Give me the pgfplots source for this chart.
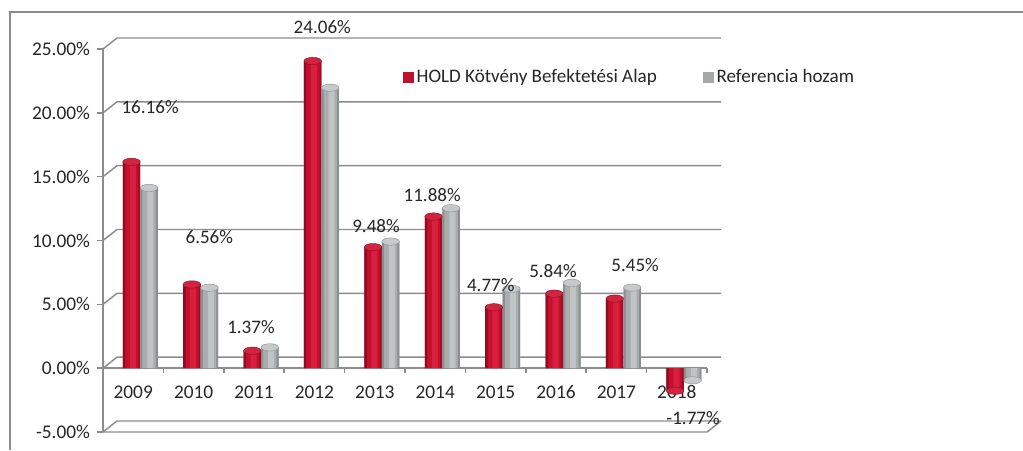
\documentclass[border=0pt]{standalone}
\usepackage{fontspec}
\setmainfont{Carlito}
\usepackage{pgfplots}
\usepackage{pgfplotstable}
\pgfplotsset{compat=1.18}
\pgfplotsset{
  table/redx/.style={x expr=\coordindex-0.028, y=hold},
  table/grayx/.style={x expr=\coordindex+0.262, y=ref},
  layer/.style={ybar, draw=none, forget plot},
}
\definecolor{gridc}{HTML}{8C8C8C}
\definecolor{redA}{HTML}{8E0B22}
\definecolor{redB}{HTML}{C5102D}
\definecolor{redL}{HTML}{D6203D}
\definecolor{redTop}{HTML}{D02440}
\definecolor{grayA}{HTML}{8A8E8E}
\definecolor{grayB}{HTML}{A9ADAD}
\definecolor{grayL}{HTML}{C0C4C4}
\definecolor{grayTop}{HTML}{C6C9C9}
\definecolor{legred}{HTML}{C0102E}
\definecolor{leggray}{HTML}{A5A8A8}
\definecolor{txt}{HTML}{262626}

\pgfplotstableread{
year hold ref
2009 16.16 14.12
2010 6.56 6.30
2011 1.37 1.63
2012 24.06 21.97
2013 9.48 9.92
2014 11.88 12.53
2015 4.77 6.21
2016 5.84 6.68
2017 5.45 6.31
2018 -1.77 -0.95
}\datatable

\pgfplotstableread{
x y label
0.28 20.44 16.16
3.13 26.70 24.06
1.26 10.26 6.56
1.95 3.21 1.37
4.02 11.12 9.48
4.95 13.55 11.88
5.92 6.50 4.77
6.95 7.60 5.84
8.31 8.07 5.45
9.27 -3.92 -1.77
}\labtable

\begin{document}
\begin{tikzpicture}[x=1pt,y=1pt]
\useasboundingbox (0,0) rectangle (767.25,337.5);
\draw[gridc, line width=1.2pt] (7.5,0) -- (7.5,328.5) -- (767.25,328.5);
\begin{axis}[
  at={(77.25pt,13.5pt)}, anchor=south west,
  scale only axis, width=453pt, height=287.25pt,
  xmin=-0.5, xmax=9.5, ymin=-5, ymax=25,
  clip=false,
  axis line style={draw=none},
  major tick length=0pt,
  xtick={0,...,9},
  xticklabels={2009,2010,2011,2012,2013,2014,2015,2016,2017,2018},
  ytick={-5,0,5,10,15,20,25},
  /pgf/number format/assume math mode=true,
  yticklabel={\pgfmathprintnumber[fixed,fixed zerofill,precision=2]{\tick}\%},
  tick label style={font=\fontsize{14.5}{17}\selectfont, text=txt},
  yticklabel style={anchor=east, xshift=-6.2pt},
  xticklabel style={anchor=center, yshift=30pt},
  legend style={at={(axis description cs:0.497,0.927)}, anchor=west, draw=none, fill=none,
    legend columns=2, inner sep=0pt, font=\fontsize{14.3}{17}\selectfont, text=txt,
    /tikz/every even column/.append style={column sep=33pt}},
]
% back wall grid lines with 3D offset
\pgfplotsinvokeforeach{-5,0,5,10,15,20,25}{
  \draw[gridc, line width=1.1pt] (axis cs:-0.5,#1) -- ++(10.5pt,8.25pt) -- ([shift={(10.5pt,8.25pt)}]axis cs:9.5,#1);
  \draw[gridc, line width=1.1pt] (axis cs:-0.5,#1) -- ++(-4.5pt,0pt);
}
% left axis line
\draw[gridc, line width=1.1pt] (axis cs:-0.5,-5) -- (axis cs:-0.5,25);
% floor front lines
\draw[gridc, line width=1.1pt] (axis cs:-0.5,0) -- (axis cs:9.5,0);
\draw[gridc, line width=1.1pt] (axis cs:-0.5,-5) -- (axis cs:9.5,-5) -- ++(10.5pt,8.25pt);
\pgfplotsinvokeforeach{-0.5,0.5,...,9.5}{
  \draw[gridc, line width=1.1pt] (axis cs:#1,0) -- ++(0pt,-3.75pt);
}
% red cylinders (layered)
\addplot[layer, bar width=13.1pt, bar shift=0pt, fill=redB] table[redx]{\datatable};
\addplot[layer, bar width=4.5pt, bar shift=1pt, fill=redL] table[redx]{\datatable};
\addplot[layer, bar width=1.8pt, bar shift=-5.65pt, fill=redA] table[redx]{\datatable};
\addplot[layer, bar width=1.4pt, bar shift=5.85pt, fill=redA!75!redB] table[redx]{\datatable};
\addplot[only marks, mark=*, mark size=6.55pt, forget plot,
  mark options={fill=redTop, draw=redA, line width=0.3pt, yscale=0.42}]
  table[redx]{\datatable};
% gray cylinders (layered)
\addplot[layer, bar width=13.1pt, bar shift=0pt, fill=grayB] table[grayx]{\datatable};
\addplot[layer, bar width=4.5pt, bar shift=1pt, fill=grayL] table[grayx]{\datatable};
\addplot[layer, bar width=1.6pt, bar shift=-5.75pt, fill=grayA] table[grayx]{\datatable};
\addplot[layer, bar width=1.4pt, bar shift=5.85pt, fill=grayA] table[grayx]{\datatable};
\addplot[only marks, mark=*, mark size=6.55pt, forget plot,
  mark options={fill=grayTop, draw=grayA, line width=0.3pt, yscale=0.42}]
  table[grayx]{\datatable};
% data labels
\addplot[draw=none, forget plot, point meta=explicit symbolic,
  nodes near coords={\pgfplotspointmeta\%}, nodes near coords align={center},
  every node near coord/.append style={font=\fontsize{14.3}{17}\selectfont, text=txt, inner sep=0pt}]
  table[x=x, y=y, meta=label]{\labtable};
\addlegendimage{legend image code/.code={\fill[legred] (0pt,-3.75pt) rectangle (7.5pt,3.75pt);}}
\addlegendentry{HOLD Kötvény Befektetési Alap}
\addlegendimage{legend image code/.code={\fill[leggray] (0pt,-3.75pt) rectangle (7.5pt,3.75pt);}}
\addlegendentry{Referencia hozam}
\end{axis}
\end{tikzpicture}
\end{document}
